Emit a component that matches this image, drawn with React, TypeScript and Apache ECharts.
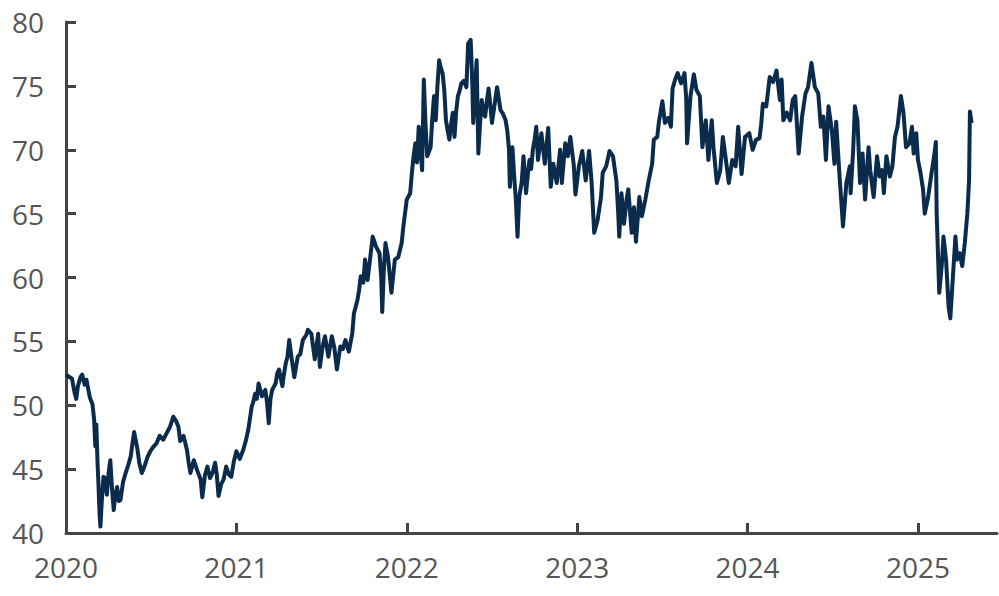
import React, { useEffect, useRef } from "react";
import * as echarts from "echarts";

// Time in decimal years
const years: number[] = [
  2020.0, 2020.02, 2020.035, 2020.05, 2020.06, 2020.07, 2020.085, 2020.095, 2020.11, 2020.12,
  2020.14, 2020.155, 2020.165, 2020.172, 2020.178, 2020.185, 2020.19, 2020.197, 2020.202, 2020.21,
  2020.22, 2020.23, 2020.24, 2020.25, 2020.26, 2020.27, 2020.28, 2020.29, 2020.3, 2020.31,
  2020.32, 2020.335, 2020.35, 2020.365, 2020.38, 2020.39, 2020.4, 2020.41, 2020.42, 2020.43,
  2020.445, 2020.46, 2020.48, 2020.495, 2020.51, 2020.53, 2020.55, 2020.57, 2020.59, 2020.61,
  2020.63, 2020.645, 2020.66, 2020.67, 2020.69, 2020.71, 2020.72, 2020.73, 2020.75, 2020.77,
  2020.79, 2020.8, 2020.815, 2020.83, 2020.845, 2020.86, 2020.875, 2020.885, 2020.895, 2020.91,
  2020.925, 2020.94, 2020.955, 2020.97, 2020.985,
  2021.0, 2021.02, 2021.04, 2021.055, 2021.07, 2021.08, 2021.09, 2021.1, 2021.11, 2021.12,
  2021.13, 2021.15, 2021.17, 2021.18, 2021.19, 2021.2, 2021.21, 2021.23, 2021.24, 2021.25,
  2021.27, 2021.28, 2021.29, 2021.3, 2021.31, 2021.325, 2021.34, 2021.36, 2021.375, 2021.39,
  2021.41, 2021.42, 2021.44, 2021.46, 2021.48, 2021.49, 2021.505, 2021.52, 2021.54, 2021.56,
  2021.575, 2021.59, 2021.61, 2021.625, 2021.64, 2021.66, 2021.68, 2021.69, 2021.71, 2021.72,
  2021.73, 2021.745, 2021.755, 2021.77, 2021.785, 2021.8, 2021.82, 2021.84, 2021.85, 2021.856,
  2021.865, 2021.875, 2021.89, 2021.9, 2021.91, 2021.93, 2021.95, 2021.97, 2021.98,
  2022.0, 2022.02, 2022.03, 2022.04, 2022.05, 2022.06, 2022.07, 2022.08, 2022.09, 2022.1,
  2022.11, 2022.12, 2022.14, 2022.15, 2022.16, 2022.17, 2022.18, 2022.19, 2022.2, 2022.21,
  2022.22, 2022.23, 2022.24, 2022.25, 2022.26, 2022.27, 2022.28, 2022.29, 2022.3, 2022.31,
  2022.32, 2022.335, 2022.35, 2022.36, 2022.375, 2022.385, 2022.39, 2022.4, 2022.41, 2022.42,
  2022.43, 2022.44, 2022.45, 2022.46, 2022.47, 2022.48, 2022.49, 2022.5, 2022.515, 2022.53,
  2022.54, 2022.55, 2022.565, 2022.58, 2022.59, 2022.6, 2022.605, 2022.62, 2022.63, 2022.64,
  2022.65, 2022.66, 2022.675, 2022.685, 2022.7, 2022.71, 2022.72, 2022.73, 2022.74, 2022.75,
  2022.76, 2022.77, 2022.79, 2022.81, 2022.83, 2022.845, 2022.86, 2022.88, 2022.9, 2022.91,
  2022.93, 2022.945, 2022.96, 2022.98, 2022.99,
  2023.01, 2023.03, 2023.05, 2023.07, 2023.085, 2023.1, 2023.12, 2023.14, 2023.15, 2023.17,
  2023.19, 2023.21, 2023.23, 2023.24, 2023.247, 2023.26, 2023.275, 2023.29, 2023.3, 2023.32,
  2023.333, 2023.345, 2023.365, 2023.38, 2023.4, 2023.42, 2023.44, 2023.45, 2023.47, 2023.48,
  2023.5, 2023.515, 2023.535, 2023.55, 2023.56, 2023.575, 2023.59, 2023.61, 2023.63, 2023.64,
  2023.645, 2023.665, 2023.685, 2023.7, 2023.72, 2023.735, 2023.755, 2023.77, 2023.79, 2023.8,
  2023.82, 2023.84, 2023.855, 2023.87, 2023.89, 2023.91, 2023.93, 2023.945, 2023.965, 2023.985,
  2024.01, 2024.03, 2024.05, 2024.07, 2024.08, 2024.09, 2024.11, 2024.13, 2024.15, 2024.17,
  2024.19, 2024.2, 2024.21, 2024.23, 2024.25, 2024.265, 2024.28, 2024.3, 2024.32, 2024.34,
  2024.355, 2024.375, 2024.395, 2024.415, 2024.43, 2024.445, 2024.46, 2024.475, 2024.495, 2024.51,
  2024.52, 2024.54, 2024.55, 2024.56, 2024.58, 2024.6, 2024.605, 2024.62, 2024.63, 2024.645,
  2024.66, 2024.675, 2024.69, 2024.71, 2024.72, 2024.74, 2024.76, 2024.775, 2024.79, 2024.8,
  2024.815, 2024.835, 2024.85, 2024.865, 2024.88, 2024.9, 2024.915, 2024.93, 2024.95, 2024.965,
  2024.975, 2024.99,
  2025.0, 2025.015, 2025.03, 2025.04, 2025.06, 2025.08, 2025.095, 2025.105, 2025.11, 2025.125,
  2025.14, 2025.15, 2025.165, 2025.18, 2025.19, 2025.205, 2025.22, 2025.23, 2025.245, 2025.26,
  2025.275, 2025.29, 2025.3, 2025.305, 2025.315,
];

const values: number[] = [
  52.4, 52.2, 52.1, 51.0, 50.5, 51.5, 52.2, 52.4, 51.6, 52.0,
  50.6, 50.1, 48.9, 46.8, 48.5, 45.5, 44.0, 41.5, 40.5, 42.5,
  44.4, 44.3, 43.0, 44.7, 45.7, 43.5, 41.8, 43.0, 43.6, 42.5,
  42.6, 44.0, 44.7, 45.3, 46.0, 47.0, 47.9, 47.2, 46.5, 45.5,
  44.7, 45.2, 46.0, 46.4, 46.7, 47.0, 47.6, 47.3, 47.8, 48.3,
  49.1, 48.8, 48.3, 47.2, 47.6, 46.5, 45.5, 44.7, 45.7, 44.9,
  44.2, 42.8, 44.5, 45.2, 44.3, 44.7, 45.5, 44.6, 42.9, 43.8,
  44.2, 45.2, 44.6, 44.4, 45.6,
  46.4, 45.8, 46.5, 47.2, 48.1, 49.0, 49.9, 50.3, 50.9, 50.5,
  51.7, 50.7, 51.2, 50.2, 48.6, 50.5, 51.2, 51.7, 52.5, 52.8,
  51.5, 52.5, 53.3, 53.8, 55.1, 53.6, 52.2, 53.8, 54.0, 55.1,
  55.5, 55.9, 55.6, 53.6, 55.6, 53.0, 54.5, 55.4, 53.8, 55.4,
  54.5, 52.8, 54.6, 54.4, 55.1, 54.2, 55.6, 57.2, 58.2, 59.0,
  60.1, 59.6, 61.4, 59.8, 61.5, 63.2, 62.4, 61.9, 60.0, 57.3,
  60.5, 62.7, 61.6, 60.2, 58.8, 61.4, 61.6, 62.7, 64.0,
  66.1, 66.6, 68.2, 69.5, 70.5, 69.0, 71.8, 70.0, 68.4, 75.5,
  72.0, 69.5, 70.2, 72.5, 74.2, 72.3, 75.0, 77.0, 76.4, 76.0,
  74.7, 72.3, 71.5, 70.8, 72.0, 72.9, 71.0, 73.0, 74.2, 74.6,
  75.2, 75.4, 74.9, 78.3, 78.6, 75.0, 72.1, 74.5, 77.0, 69.7,
  72.0, 73.9, 73.0, 72.6, 73.8, 74.8, 73.5, 72.1, 73.5, 74.9,
  74.0, 73.1, 72.8, 72.3, 71.5, 70.0, 67.1, 70.2, 68.0, 66.1,
  63.2, 66.3, 67.5, 69.5, 66.6, 68.0, 69.2, 68.5, 70.0, 70.8,
  71.8, 69.2, 71.3, 68.9, 71.7, 67.1, 68.9, 67.4, 70.0, 67.4,
  70.5, 69.5, 71.0, 68.8, 66.5,
  68.7, 69.9, 67.6, 69.9, 67.4, 63.5, 64.5, 66.3, 68.2, 68.7,
  69.9, 69.5, 67.6, 65.3, 63.2, 66.6, 64.2, 66.1, 66.9, 63.5,
  65.5, 62.8, 66.3, 64.8, 66.1, 67.6, 68.9, 70.8, 71.0, 72.2,
  73.8, 72.1, 72.5, 71.8, 74.8, 75.5, 76.0, 75.2, 76.0, 74.0,
  70.5, 74.2, 75.9, 74.7, 74.2, 70.2, 72.3, 69.2, 72.3, 70.2,
  67.4, 68.4, 71.0, 69.5, 67.4, 69.2, 68.7, 71.8, 68.1, 71.0,
  71.3, 70.0, 70.8, 70.9, 72.0, 73.6, 73.4, 75.7, 75.3, 76.2,
  73.9, 75.5, 72.3, 72.9, 72.3, 73.9, 74.2, 69.7, 72.6, 74.4,
  74.9, 76.8, 74.9, 74.4, 71.8, 72.6, 69.2, 73.4, 71.5, 68.9,
  72.2, 67.9, 66.0, 64.0, 67.4, 68.7, 66.6, 70.0, 73.4, 72.3,
  67.4, 69.7, 66.1, 70.2, 68.4, 66.3, 69.5, 67.9, 68.4, 66.6,
  69.5, 67.9, 68.7, 71.0, 71.8, 74.2, 72.9, 70.2, 70.5, 71.8,
  69.7, 71.3,
  69.2, 68.2, 66.9, 65.0, 66.3, 68.2, 69.5, 70.6, 65.0, 58.8,
  61.0, 63.2, 61.4, 57.7, 56.8, 60.0, 63.2, 61.4, 61.9, 60.9,
  62.7, 65.0, 67.6, 73.0, 72.1,
];

const yearTicks: number[] = [2020, 2021, 2022, 2023, 2024, 2025];
const yMin = 40;
const yMax = 80;
const yStep = 5;
const xMin = 2020;
const xMax = 2025.464;

export default function App() {
  const ref = useRef<HTMLDivElement>(null);

  useEffect(() => {
    document.body.style.margin = "0";
    if (!ref.current) return;
    const chart = echarts.init(ref.current, undefined, { renderer: "svg" });
    const data = years.map((t, i) => [t, values[i]]);
    const axisColor = "#444444";
    const labelColor = "#555555";
    const font = "'Open Sans', 'Noto Sans', sans-serif";
    chart.setOption({
      animation: false,
      backgroundColor: "#ffffff",
      grid: { left: 66, right: 2, top: 22, bottom: 63, containLabel: false },
      xAxis: {
        type: "value",
        min: xMin,
        max: xMax,
        interval: 1,
        splitLine: { show: false },
        axisLine: { show: true, lineStyle: { color: axisColor, width: 3 } },
        axisTick: {
          show: true,
          inside: true,
          length: 10,
          lineStyle: { color: axisColor, width: 3 },
          customValues: yearTicks,
        },
        axisLabel: {
          color: labelColor,
          fontFamily: font,
          fontSize: 28,
          margin: 20,
          customValues: yearTicks,
          formatter: (v: number) => String(Math.round(v)),
        },
      },
      yAxis: {
        type: "value",
        min: yMin,
        max: yMax,
        interval: yStep,
        splitLine: { show: false },
        axisLine: { show: true, lineStyle: { color: axisColor, width: 3 } },
        axisTick: {
          show: true,
          inside: true,
          length: 10,
          lineStyle: { color: axisColor, width: 3 },
        },
        axisLabel: {
          color: labelColor,
          fontFamily: font,
          fontSize: 28,
          margin: 22,
        },
      },
      series: [
        {
          type: "line",
          data,
          showSymbol: false,
          symbol: "none",
          smooth: false,
          lineStyle: { color: "#0b2b4c", width: 4, join: "round" },
        },
      ],
    });
    return () => chart.dispose();
  }, []);

  return (
    <div
      ref={ref}
      style={{ position: "absolute", left: 0, top: 0, width: 999, height: 596 }}
    />
  );
}
